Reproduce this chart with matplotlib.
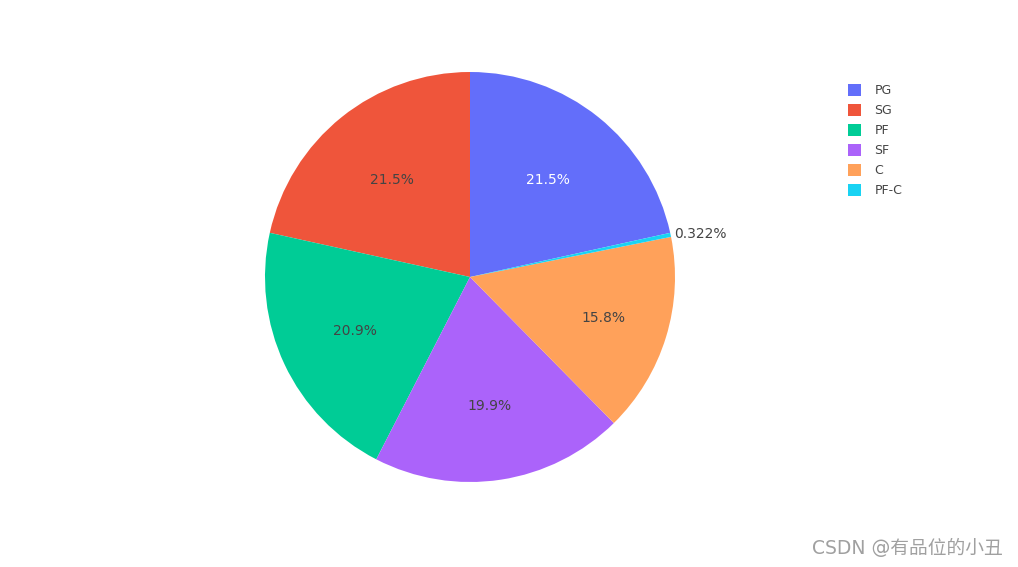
import matplotlib
matplotlib.use("Agg")
import matplotlib.pyplot as plt
import numpy as np

# player positions and counts
positions = ["PG", "SG", "PF", "SF", "C", "PF-C"]
counts = [67, 67, 65, 62, 49, 1]
colors = ["#636efa", "#EF553B", "#00cc96", "#ab63fa", "#FFA15A", "#19d3f3"]
label_colors = ["white", "#444444", "#444444", "#444444", "#444444", "#444444"]
# radial position of the inside labels (fraction of radius)
label_r = [0.61, 0.61, 0.62, 0.635, 0.68, 1.015]

plt.rcParams['font.family'] = ['DejaVu Sans', 'Noto Sans CJK SC']

fig = plt.figure(figsize=(10.18, 5.67), dpi=100)
ax = fig.add_axes([0, 0, 1, 1])

total = sum(counts)
start = 90 - 360 * counts[0] / total
cx, cy, R = 470, 290, 205

wedges, _ = ax.pie(counts, colors=colors, startangle=start, counterclock=True,
                   center=(cx, cy), radius=R, frame=True,
                   wedgeprops=dict(linewidth=0))
ax.set_xlim(0, 1018)
ax.set_ylim(0, 567)
ax.set_aspect('equal')
ax.axis('off')

for w, c, lc, lr in zip(wedges, counts, label_colors, label_r):
    pct = 100 * c / total
    mid = np.deg2rad((w.theta1 + w.theta2) / 2)
    txt = f"{pct:.3g}%"
    x = cx + lr * R * np.cos(mid)
    y = cy + lr * R * np.sin(mid)
    if pct < 3:
        ax.text(x, y, txt, ha='left', va='center', fontsize=10, color=lc)
    else:
        ax.text(x, y, txt, ha='center', va='center', fontsize=10, color=lc)

leg = ax.legend(wedges, positions, loc='upper left',
                bbox_to_anchor=(837 / 1018, 1 - 73 / 567), frameon=False,
                fontsize=9, handlelength=1.05, handleheight=1.05,
                handletextpad=1.05, labelspacing=0.55)
for t in leg.get_texts():
    t.set_color('#444444')

fig.text(1003 / 1018, 1 - 548 / 567, "CSDN @有品位的小丑", ha='right', va='center',
         fontsize=13.5, color='#a0a0a0', family=['DejaVu Sans', 'Noto Sans CJK SC'])

fig.savefig("out.png", dpi=100)
